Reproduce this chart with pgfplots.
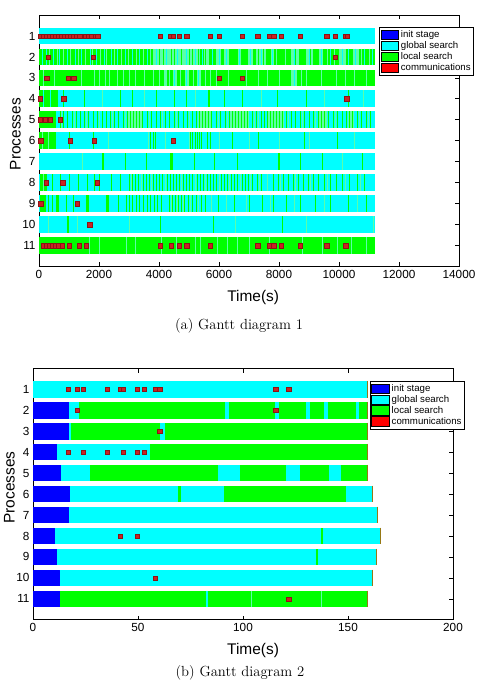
\documentclass[border=0pt]{standalone}
\usepackage{fontspec}
\setsansfont{Liberation Sans}
\usepackage{pgfplots}
\pgfplotsset{compat=1.18}
\definecolor{gblue}{RGB}{0,0,255}
\definecolor{gcyan}{RGB}{0,255,255}
\definecolor{ggreen}{RGB}{0,255,0}
\definecolor{gred}{RGB}{255,0,0}
\definecolor{gmint}{RGB}{90,255,170}
\definecolor{sqfill}{RGB}{200,35,35}
\definecolor{sqdraw}{RGB}{140,20,20}
\definecolor{endline}{RGB}{150,120,20}
\pgfplotsset{
  gantt/.style={
    scale only axis, width=420bp, height=251.5bp,
    anchor=north west,
    xmin=0, ymin=0, ymax=12, y dir=reverse,
    ytick={1,...,11},
    xtick pos=both, ytick pos=both, tick align=inside,
    axis line style={line width=0.9bp},
    every tick/.style={black, line width=0.7bp},
    tick label style={font=\sffamily\fontsize{11.8}{13}\selectfont},
    /pgf/number format/assume math mode=true,
    /pgf/number format/1000 sep={},
    scaled x ticks=false,
    label style={font=\sffamily\fontsize{15.5}{17}\selectfont},
    xlabel={Time(s)}, ylabel={Processes},
    ylabel style={at={(axis description cs:-0.056,0.526)}, anchor=center},
    legend cell align=left,
    legend image code/.code={\fill[##1] (0bp,-4.8bp) rectangle (17.5bp,4.8bp);},
    legend style={draw=black, line width=0.8bp, anchor=north west,
      font=\sffamily\fontsize{9.7}{11}\selectfont,
      inner xsep=1.2bp, inner ysep=1.2bp, row sep=-1.5bp},
  },
  seg/.style={forget plot, mark=none, line width=16.7bp, unbounded coords=jump, draw=#1},
  stripe/.style 2 args={forget plot, only marks, mark=|, mark size=8.35bp, mark options={draw=#1, line width=#2}},
  comm/.style={forget plot, only marks, mark=square*, mark size=2.2bp, mark options={fill=sqfill, draw=sqdraw, line width=0.3bp}},
}
\begin{document}
\begin{tikzpicture}
\useasboundingbox (0,0) rectangle (481bp,-680bp);
% ---------------- Gantt diagram 1 ----------------
\begin{axis}[gantt, at={(39bp,-15bp)}, xmax=14000, xtick={0,2000,...,14000},
  xlabel style={at={(axis description cs:0.51,-0.123)}, anchor=center},
  legend style={at={(0.8095,0.952)}}]
\addlegendimage{fill=gblue}\addlegendentry{init stage}
\addlegendimage{fill=gcyan}\addlegendentry{global search}
\addlegendimage{fill=ggreen}\addlegendentry{local search}
\addlegendimage{fill=gred}\addlegendentry{communications}
% cyan bases
\addplot[seg=gcyan] coordinates {(0,1)(11200,1)(nan,nan)(0,4)(11200,4)(nan,nan)(0,5)(11200,5)(nan,nan)(0,6)(11200,6)(nan,nan)(0,7)(11200,7)(nan,nan)(0,8)(11200,8)(nan,nan)(0,9)(11200,9)(nan,nan)(0,10)(11200,10)};
% green bases and blocks
\addplot[seg=ggreen] coordinates {(0,2)(11200,2)(nan,nan)(0,3)(11200,3)(nan,nan)(0,11)(11200,11)(nan,nan)
 (0,4)(620,4)(nan,nan)(0,5)(570,5)(nan,nan)(0,6)(560,6)(nan,nan)(4380,7)(4480,7)(nan,nan)(30,8)(280,8)(nan,nan)
 (20,9)(230,9)(nan,nan)(570,9)(680,9)(nan,nan)(1570,9)(1680,9)(nan,nan)(2230,9)(2340,9)};
% mixed (light) blocks
\addplot[seg=gmint] coordinates {(3800,2)(5350,2)(nan,nan)(5570,2)(5670,2)(nan,nan)(5900,2)(6070,2)(nan,nan)(6170,2)(6330,2)(nan,nan)(6630,2)(6730,2)(nan,nan)(6970,2)(7130,2)(nan,nan)(7230,2)(7570,2)(nan,nan)(7730,2)(7830,2)(nan,nan)(8400,2)(8670,2)(nan,nan)(8900,2)(9130,2)(nan,nan)(9330,2)(9470,2)(nan,nan)(10000,2)(10230,2)(nan,nan)(10470,2)(10670,2)(nan,nan)
 (4150,3)(4250,3)(nan,nan)(4450,3)(4600,3)(nan,nan)(4850,3)(5000,3)(nan,nan)(5250,3)(5400,3)(nan,nan)(8400,3)(8600,3)(nan,nan)
 (2950,5)(3450,5)(nan,nan)(5300,5)(5750,5)(nan,nan)(6350,5)(7000,5)(nan,nan)(7600,5)(8150,5)(nan,nan)(9300,5)(9600,5)(nan,nan)(10300,5)(10500,5)};
% thin light stripes
\addplot[stripe={gmint}{1bp}] coordinates {
 (340,2)(600,2)(830,2)(1050,2)(1320,2)(1560,2)(1790,2)(2050,2)(2260,2)(2530,2)(2760,2)(2990,2)(3250,2)(3480,2)(3700,2)(5500,2)(7900,2)(8200,2)(9600,2)(9850,2)(10750,2)(11000,2)
 (150,3)(500,3)(1400,3)(1850,3)(2000,3)(2200,3)(2350,3)(2600,3)(2800,3)(3000,3)(3200,3)(3500,3)(3800,3)(4000,3)(4350,3)(4700,3)(5150,3)(5550,3)(5700,3)(5900,3)(6300,3)(6900,3)(7300,3)(7600,3)(8000,3)(8750,3)(8900,3)(9400,3)(9900,3)(10200,3)(10500,3)(10900,3)
 (2100,4)(3500,4)(5200,4)(7400,4)(9500,4)(10800,4)
 (760,5)(1180,5)(1570,5)(2020,5)(2450,5)(2870,5)(3680,5)(4120,5)(4570,5)(5020,5)(5980,5)(6280,5)(7170,5)(7330,5)(8330,5)(8780,5)(9230,5)(9880,5)(10680,5)(10980,5)
 (130,6)(330,6)(2300,6)(3650,6)(4200,6)(5000,6)(6000,6)(7000,6)(8000,6)(9000,6)(10500,6)
 (1450,7)(10100,7)
 (140,8)(3080,8)(3400,8)(3750,8)(4200,8)(4750,8)(5200,8)(5550,8)(6000,8)(6350,8)(6700,8)(7050,8)(7350,8)(7600,8)(8050,8)(8550,8)(9050,8)(9600,8)(10200,8)(10700,8)
 (4400,9)(4600,9)(4800,9)(5050,9)(5300,9)(5750,9)(6250,9)(6900,9)(7700,9)(8500,9)(9500,9)(10600,9)
 (310,10)(1290,10)(3030,10)(6560,10)(8900,10)(11150,10)
 (1680,11)(2010,11)(2900,11)(3230,11)(4070,11)(4570,11)(5230,11)(5370,11)(5960,11)(6290,11)(6620,11)(7010,11)(7680,11)(8790,11)(9460,11)(9960,11)(10410,11)(10900,11)};
% thin cyan stripes
\addplot[stripe={gcyan}{1bp}] coordinates {
 (120,2)(260,2)(480,2)(690,2)(960,2)(1200,2)(1420,2)(1700,2)(1930,2)(2180,2)(2400,2)(2620,2)(2880,2)(3120,2)(3340,2)(3600,2)(3900,2)(4250,2)(4600,2)(4900,2)(5200,2)(5450,2)(5780,2)(6000,2)(6250,2)(6680,2)(7050,2)(7400,2)(7780,2)(8500,2)(9000,2)(9400,2)(9700,2)(10100,2)(10300,2)(10550,2)(10850,2)(11100,2)
 (4520,3)(4930,3)(5320,3)(8500,3)
 (150,4)(380,4)};
% thin green stripes
\addplot[stripe={ggreen}{1bp}] coordinates {
 (4000,2)(4150,2)(4400,2)(4500,2)(4750,2)(5000,2)(5100,2)(5300,2)(7330,2)(7480,2)(8550,2)(9050,2)
 (800,4)(1500,4)(2700,4)(3120,4)(3900,4)(4500,4)(4900,4)(6170,4)(6790,4)(7950,4)(8900,4)(10330,4)
 (700,5)(820,5)(950,5)(1100,5)(1250,5)(1380,5)(1500,5)(1650,5)(1800,5)(1950,5)(2100,5)(2250,5)(2380,5)(2500,5)(2650,5)(2800,5)(2950,5)(3050,5)(3150,5)(3250,5)(3350,5)(3450,5)(3600,5)(3750,5)(3900,5)(4050,5)(4200,5)(4350,5)(4500,5)(4650,5)(4800,5)(4950,5)(5100,5)(5250,5)(5350,5)(5450,5)(5550,5)(5650,5)(5750,5)(5900,5)(6050,5)(6200,5)(6350,5)(6450,5)(6550,5)(6650,5)(6750,5)(6850,5)(6950,5)(7100,5)(7250,5)(7400,5)(7500,5)(7600,5)(7700,5)(7800,5)(7900,5)(8000,5)(8100,5)(8250,5)(8400,5)(8550,5)(8700,5)(8850,5)(9000,5)(9150,5)(9300,5)(9400,5)(9500,5)(9650,5)(9800,5)(9950,5)(10100,5)(10250,5)(10350,5)(10450,5)(10600,5)(10750,5)(10900,5)(11050,5)
 (1000,6)(1800,6)(3730,6)(3800,6)(3880,6)(5050,6)(5130,6)(5200,6)(5280,6)(5350,6)(5420,6)(5600,6)(5700,6)(6450,6)(7330,6)(8840,6)(9950,6)
 (2870,7)(3590,7)(5180,7)(5860,7)(6620,7)(8730,7)(9440,7)(10780,7)
 (450,8)(700,8)(1000,8)(1300,8)(1600,8)(1850,8)(2000,8)(2400,8)(2700,8)(3030,8)(3130,8)(3230,8)(3330,8)(3480,8)(3580,8)(3680,8)(3830,8)(3930,8)(4030,8)(4130,8)(4280,8)(4380,8)(4480,8)(4580,8)(4680,8)(4830,8)(4930,8)(5030,8)(5130,8)(5280,8)(5380,8)(5480,8)(5630,8)(5730,8)(5830,8)(5930,8)(6080,8)(6180,8)(6280,8)(6430,8)(6530,8)(6630,8)(6780,8)(6880,8)(6980,8)(7130,8)(7280,8)(7430,8)(7820,8)(7980,8)(8150,8)(8300,8)(8480,8)(8650,8)(8800,8)(8980,8)(9150,8)(9320,8)(9500,8)(9700,8)(9900,8)(10100,8)(10350,8)(10600,8)(10850,8)
 (330,9)(440,9)(900,9)(1150,9)(2650,9)(2900,9)(3020,9)(3120,9)(3250,9)(3350,9)(3480,9)(3600,9)(3720,9)(3850,9)(3950,9)(4080,9)(4350,9)(4450,9)(4550,9)(4650,9)(4750,9)(4850,9)(4980,9)(5100,9)(5250,9)(5400,9)(5550,9)(5990,9)(6500,9)(7000,9)(7450,9)(7800,9)(8250,9)(8700,9)(9200,9)(9700,9)(10300,9)(10900,9)
 (4050,10)(5830,10)(8100,10)};
\addplot[stripe={ggreen}{2bp}] coordinates {(5650,4)(2140,7)(8010,7)(980,10)};
% communications
\addplot[comm] coordinates {
 (50,1)(150,1)(250,1)(350,1)(450,1)(550,1)(650,1)(750,1)(850,1)(950,1)(1050,1)(1150,1)(1250,1)(1350,1)(1560,1)(1660,1)(1760,1)(1870,1)(1960,1)(4033,1)(4389,1)(4478,1)(4678,1)(4922,1)(5711,1)(6000,1)(6770,1)(7289,1)(7678,1)(7822,1)(8067,1)(8711,1)(9589,1)(9878,1)(10220,1)(10280,1)
 (311,2)(1800,2)(9870,2)
 (250,3)(967,3)(1156,3)(6000,3)(6770,3)
 (40,4)(828,4)(10256,4)
 (33,5)(200,5)(367,5)(700,5)
 (50,6)(1033,6)(1833,6)(4480,6)
 (233,8)(789,8)(1944,8)
 (56,9)(1270,9)
 (1689,10)
 (150,11)(250,11)(350,11)(450,11)(550,11)(650,11)(780,11)(1000,11)(1340,11)(1567,11)(4033,11)(4405,11)(4670,11)(4915,11)(5711,11)(7289,11)(7680,11)(7815,11)(8067,11)(8711,11)(9585,11)(10220,11)};
\end{axis}
% ---------------- Gantt diagram 2 ----------------
\begin{axis}[gantt, at={(33bp,-368.3bp)}, xmax=200, xtick={0,50,...,200},
  xlabel style={at={(axis description cs:0.524,-0.122)}, anchor=center},
  legend style={at={(0.802,0.95)}}]
\addlegendimage{fill=gblue}\addlegendentry{init stage}
\addlegendimage{fill=gcyan}\addlegendentry{global search}
\addlegendimage{fill=ggreen}\addlegendentry{local search}
\addlegendimage{fill=gred}\addlegendentry{communications}
\addplot[seg=gblue] coordinates {(0,2)(17.1,2)(nan,nan)(0,3)(17.2,3)(nan,nan)(0,4)(11.4,4)(nan,nan)(0,5)(13.5,5)(nan,nan)(0,6)(17.6,6)(nan,nan)(0,7)(17.1,7)(nan,nan)(0,8)(10.3,8)(nan,nan)(0,9)(11.6,9)(nan,nan)(0,10)(12.7,10)(nan,nan)(0,11)(13,11)};
\addplot[seg=gcyan] coordinates {(0,1)(159.4,1)(nan,nan)
 (17.1,2)(22,2)(nan,nan)(91.2,2)(93.5,2)(nan,nan)(115.3,2)(117.3,2)(nan,nan)(130.1,2)(131.8,2)(nan,nan)(138.5,2)(140.3,2)(nan,nan)(153.7,2)(155.4,2)(nan,nan)
 (17.2,3)(18.1,3)(nan,nan)(60.5,3)(62.7,3)(nan,nan)
 (11.4,4)(55.7,4)(nan,nan)
 (13.5,5)(27.1,5)(nan,nan)(88.1,5)(98.6,5)(nan,nan)(120.3,5)(127.3,5)(nan,nan)(140.8,5)(146.5,5)(nan,nan)
 (17.6,6)(68.9,6)(nan,nan)(70.5,6)(91.1,6)(nan,nan)(149,6)(161.6,6)(nan,nan)
 (17.1,7)(164.4,7)(nan,nan)
 (10.3,8)(137.1,8)(nan,nan)(138.1,8)(165.4,8)(nan,nan)
 (11.6,9)(134.8,9)(nan,nan)(135.9,9)(163.8,9)(nan,nan)
 (12.7,10)(161.6,10)(nan,nan)
 (82.2,11)(83.3,11)};
\addplot[seg=ggreen] coordinates {(22,2)(91.2,2)(nan,nan)(93.5,2)(115.3,2)(nan,nan)(117.3,2)(130.1,2)(nan,nan)(131.8,2)(138.5,2)(nan,nan)(140.3,2)(153.7,2)(nan,nan)(155.4,2)(159.2,2)(nan,nan)
 (18.1,3)(60.5,3)(nan,nan)(62.7,3)(159.2,3)(nan,nan)
 (55.7,4)(159.2,4)(nan,nan)
 (27.1,5)(88.1,5)(nan,nan)(98.6,5)(120.3,5)(nan,nan)(127.3,5)(140.8,5)(nan,nan)(146.5,5)(159.2,5)(nan,nan)
 (68.9,6)(70.5,6)(nan,nan)(91.1,6)(149,6)(nan,nan)
 (137.1,8)(138.1,8)(nan,nan)
 (134.8,9)(135.9,9)(nan,nan)
 (13,11)(82.2,11)(nan,nan)(83.3,11)(159.2,11)};
\addplot[stripe={gmint}{0.8bp}] coordinates {(103.9,11)(137.2,11)};
\addplot[stripe={endline}{0.8bp}] coordinates {(159.2,1)(159.0,2)(159.0,3)(159.0,4)(159.0,5)(161.4,6)(164.2,7)(165.2,8)(163.6,9)(161.4,10)(159.0,11)};
\addplot[comm] coordinates {
 (16.7,1)(21,1)(23.8,1)(35.3,1)(41.4,1)(43,1)(49.5,1)(53,1)(58.1,1)(60.3,1)(115.6,1)(121.7,1)
 (21,2)(115.6,2)
 (60.3,3)
 (16.7,4)(23.8,4)(35.4,4)(43,4)(49.5,4)(53,4)
 (41.4,8)(49.5,8)
 (58.3,10)
 (121.7,11)};
\end{axis}
\node[anchor=base, font=\fontsize{14.7}{17}\selectfont] at (239bp,-329bp) {(a) Gantt diagram 1};
\node[anchor=base, font=\fontsize{14.7}{17}\selectfont] at (240bp,-676bp) {(b) Gantt diagram 2};
\end{tikzpicture}
\end{document}
